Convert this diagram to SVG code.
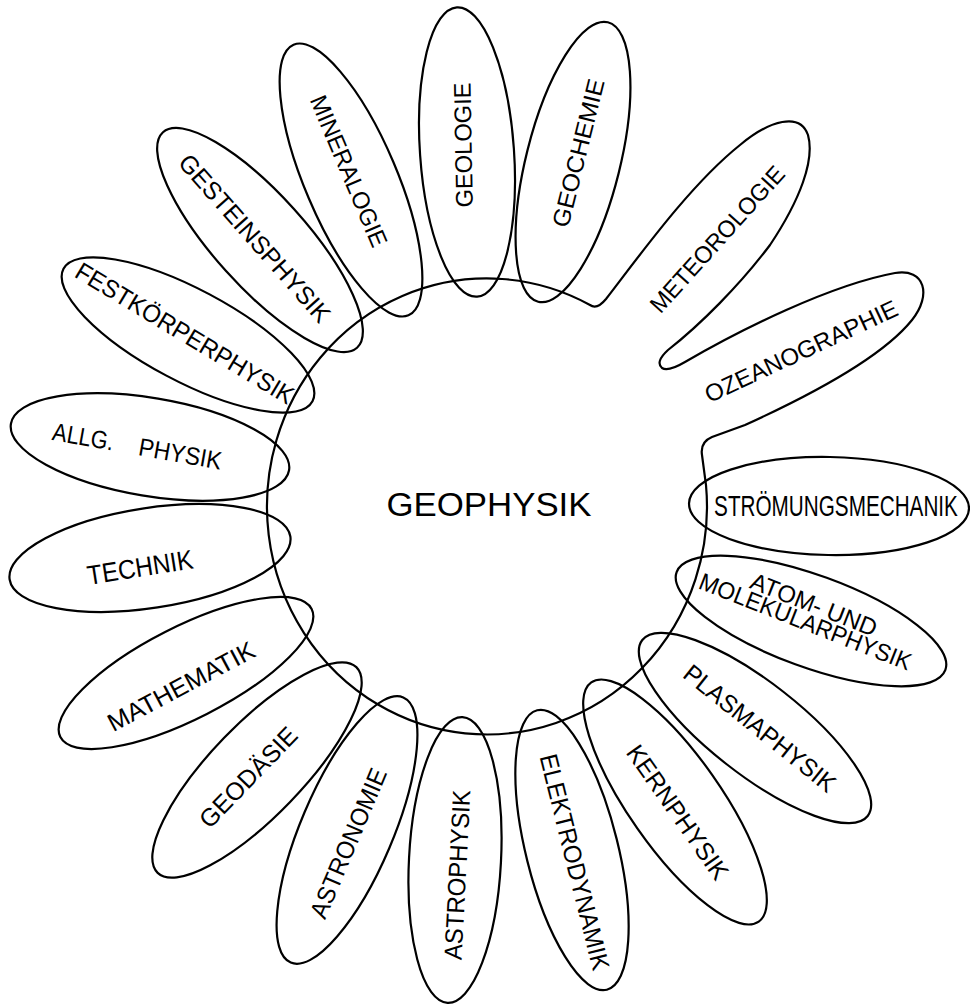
<svg xmlns="http://www.w3.org/2000/svg" width="970" height="1005" viewBox="0 0 970 1005">
<style>
  .p { fill: none; stroke: #000; stroke-width: 2.2; }
  .t { font-family: "Liberation Sans", Arial, sans-serif; fill: #000; text-anchor: middle; }
  .s24 { font-size: 24px; }
  .s25 { font-size: 25px; }
</style>
<rect width="970" height="1005" fill="#fff"/>
<g id="connectors">
  <path id="geophysik-outline" class="p" d="M 706,485 A 220 228 0 1 1 590,305 Q 597,310 606,299 C 640,255 690,185 740,145 C 770,120 800,112 808,135 C 815,160 800,200 770,245 C 740,285 700,325 668,350 Q 655,362 662,368 Q 668,372 685,362 C 740,330 830,285 895,273 C 925,268 932,295 912,320 C 880,360 800,400 745,425 L 712,437 Q 700,442 702,455 Z"/>
</g>
<g id="geophysik">
  <text class="t" transform="translate(489 504.5)" y="11.8" style="font-size:33px" textLength="205" lengthAdjust="spacingAndGlyphs">GEOPHYSIK</text>
</g>
<g id="festkoerperphysik">
  <ellipse class="p" cx="0" cy="0" rx="141" ry="46" transform="translate(188 335) rotate(28)"/>
  <text class="t s25" transform="translate(185 333) rotate(31)" y="9" textLength="250" lengthAdjust="spacingAndGlyphs">FESTKÖRPERPHYSIK</text>
</g>
<g id="gesteinsphysik">
  <ellipse class="p" cx="0" cy="0" rx="145" ry="46" transform="translate(260 240) rotate(48)"/>
  <text class="t s25" transform="translate(255 238) rotate(48.5)" y="9" textLength="215" lengthAdjust="spacingAndGlyphs">GESTEINSPHYSIK</text>
</g>
<g id="mineralogie">
  <ellipse class="p" cx="0" cy="0" rx="147" ry="46" transform="translate(351 180) rotate(67)"/>
  <text class="t s24" transform="translate(349 171) rotate(67)" y="8.6" textLength="162" lengthAdjust="spacingAndGlyphs">MINERALOGIE</text>
</g>
<g id="geologie">
  <ellipse class="p" cx="0" cy="0" rx="145" ry="47" transform="translate(467 152) rotate(86)"/>
  <text class="t s24" transform="translate(463 145) rotate(-91)" y="8.6" textLength="125" lengthAdjust="spacingAndGlyphs">GEOLOGIE</text>
</g>
<g id="geochemie">
  <ellipse class="p" cx="0" cy="0" rx="144" ry="47" transform="translate(573 162) rotate(104)"/>
  <text class="t s24" transform="translate(578 153) rotate(-76)" y="8.6" textLength="152" lengthAdjust="spacingAndGlyphs">GEOCHEMIE</text>
</g>
<g id="meteorologie">
  <text class="t s24" transform="translate(717 239) rotate(-48)" y="8.6" textLength="188" lengthAdjust="spacingAndGlyphs">METEOROLOGIE</text>
</g>
<g id="ozeanographie">
  <text class="t s24" transform="translate(801 351) rotate(-25)" y="8.6" textLength="210" lengthAdjust="spacingAndGlyphs">OZEANOGRAPHIE</text>
</g>
<g id="stroemungsmechanik">
  <ellipse class="p" cx="0" cy="0" rx="140" ry="49" transform="translate(829 506) rotate(1)"/>
  <text class="t" transform="translate(836 506) scale(0.714 1)" y="10.4" style="font-size:29px">STRÖMUNGSMECHANIK</text>
</g>
<g id="atom-molekularphysik">
  <ellipse class="p" cx="0" cy="0" rx="143" ry="46" transform="translate(811 621) rotate(20)"/>
  <text class="t s24" transform="translate(806 620) rotate(21.5)">
    <tspan x="5" y="-9" textLength="134" lengthAdjust="spacingAndGlyphs">ATOM- UND</tspan>
    <tspan x="0" y="10" textLength="226" lengthAdjust="spacingAndGlyphs">MOLEKULARPHYSIK</tspan>
  </text>
</g>
<g id="plasmaphysik">
  <ellipse class="p" cx="0" cy="0" rx="143" ry="46" transform="translate(755 728) rotate(38)"/>
  <text class="t s25" transform="translate(760 728) rotate(38.7)" y="9" textLength="187" lengthAdjust="spacingAndGlyphs">PLASMAPHYSIK</text>
</g>
<g id="kernphysik">
  <ellipse class="p" cx="0" cy="0" rx="146" ry="46" transform="translate(675 802) rotate(55)"/>
  <text class="t s25" transform="translate(678 812) rotate(55)" y="9" textLength="158" lengthAdjust="spacingAndGlyphs">KERNPHYSIK</text>
</g>
<g id="elektrodynamik">
  <ellipse class="p" cx="0" cy="0" rx="144" ry="46" transform="translate(572 850) rotate(76)"/>
  <text class="t s25" transform="translate(575 862) rotate(76)" y="9" textLength="222" lengthAdjust="spacingAndGlyphs">ELEKTRODYNAMIK</text>
</g>
<g id="astrophysik">
  <ellipse class="p" cx="0" cy="0" rx="143" ry="46" transform="translate(455 860) rotate(93)"/>
  <text class="t s25" transform="translate(457 875) rotate(-87)" y="9" textLength="170" lengthAdjust="spacingAndGlyphs">ASTROPHYSIK</text>
</g>
<g id="astronomie">
  <ellipse class="p" cx="0" cy="0" rx="144" ry="46" transform="translate(347 830) rotate(113)"/>
  <text class="t s25" transform="translate(348 843) rotate(-67)" y="9" textLength="160" lengthAdjust="spacingAndGlyphs">ASTRONOMIE</text>
</g>
<g id="geodaesie">
  <ellipse class="p" cx="0" cy="0" rx="143" ry="46" transform="translate(257 770) rotate(134)"/>
  <text class="t s25" transform="translate(248 777) rotate(-46)" y="9" textLength="129" lengthAdjust="spacingAndGlyphs">GEODÄSIE</text>
</g>
<g id="mathematik">
  <ellipse class="p" cx="0" cy="0" rx="141" ry="46" transform="translate(186 673) rotate(-27)"/>
  <text class="t s25" transform="translate(181 686) rotate(-28)" y="9" textLength="163" lengthAdjust="spacingAndGlyphs">MATHEMATIK</text>
</g>
<g id="technik">
  <ellipse class="p" cx="0" cy="0" rx="142" ry="50" transform="translate(150 558) rotate(-8.7)"/>
  <text class="t" transform="translate(140 567) rotate(-9)" y="9.7" style="font-size:27px" textLength="107" lengthAdjust="spacingAndGlyphs">TECHNIK</text>
</g>
<g id="allg-physik">
  <ellipse class="p" cx="0" cy="0" rx="141" ry="49" transform="translate(150 447) rotate(9.5)"/>
  <text class="t s25" transform="translate(138 446) rotate(10)" y="9"><tspan x="-52" textLength="62" lengthAdjust="spacingAndGlyphs">ALLG.</tspan> <tspan x="43" textLength="84" lengthAdjust="spacingAndGlyphs">PHYSIK</tspan></text>
</g>
</svg>
